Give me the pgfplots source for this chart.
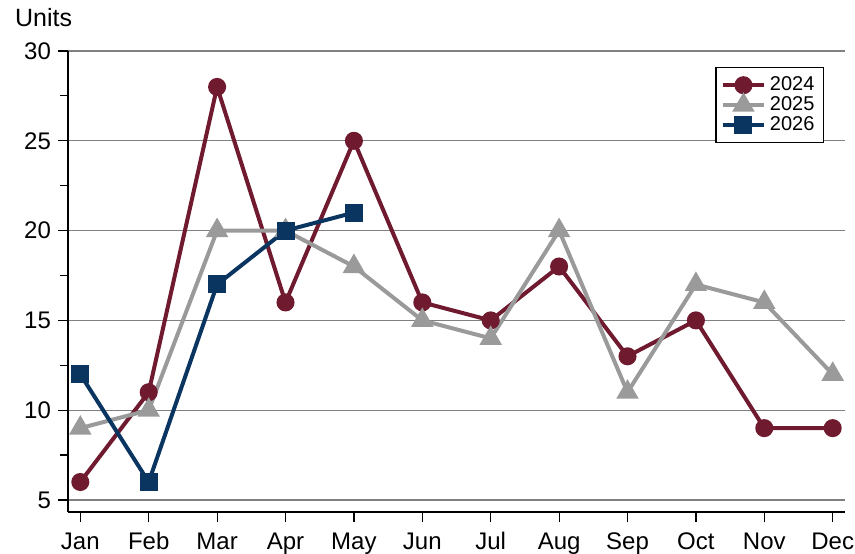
\documentclass[border=0pt]{standalone}
\usepackage{pgfplots}
\pgfplotsset{compat=1.18}
\usepackage{fontspec}
\setmainfont{Liberation Sans}
\definecolor{c1}{HTML}{6F1A2E}
\definecolor{c2}{HTML}{9A9A9A}
\definecolor{c3}{HTML}{0A3560}
\begin{document}
\begin{tikzpicture}
\begin{axis}[name=ax, at={(0,0)}, anchor=south west, scale only axis,
 width=388.5pt, height=230.5pt,
 xmin=-0.18, xmax=11.18, ymin=4.33, ymax=30,
 axis x line*=bottom, axis y line*=left,
 axis line style={-, line width=0.6pt},
 xtick={0,...,11}, xticklabels={Jan,Feb,Mar,Apr,May,Jun,Jul,Aug,Sep,Oct,Nov,Dec},
 ytick={5,10,...,30}, minor ytick={7.5,12.5,...,27.5},
 tick align=outside, major tick length=5pt, minor tick length=4pt,
 tick style={black, line width=0.6pt},
 ymajorgrids, grid style={gray, line width=0.6pt},
 ticklabel style={font=\fontsize{12}{14}\selectfont},
 /pgf/number format/assume math mode=true,
 xticklabel style={text height=9pt, text depth=2pt, yshift=-1pt},
 clip=false,
 legend style={at={(0.973,0.965)}, anchor=north east, font=\fontsize{10}{10}\selectfont, draw=black, line width=0.6pt, row sep=-2.5pt, inner sep=2.5pt},
 legend image code/.code={\draw[mark repeat=2, mark phase=2] plot coordinates {(0,0)(0.36cm,0)(0.72cm,0)};},
 legend cell align=left,
 every axis plot/.append style={line width=2pt},
]
\addplot[c1, mark=*, mark size=3.5pt] coordinates {(0,6)(1,11)(2,28)(3,16)(4,25)(5,16)(6,15)(7,18)(8,13)(9,15)(10,9)(11,9)};
\addplot[c2, mark=triangle*, mark size=4.5pt] coordinates {(0,9)(1,10)(2,20)(3,20)(4,18)(5,15)(6,14)(7,20)(8,11)(9,17)(10,16)(11,12)};
\addplot[c3, mark=square*, mark size=3.5pt] coordinates {(0,12)(1,6)(2,17)(3,20)(4,21)};
\legend{2024,2025,2026}
\end{axis}
\node[anchor=west, font=\fontsize{12.5}{14}\selectfont] at (-30pt,247pt) {Units};
\pgfresetboundingbox
\path[use as bounding box] (-34pt,-20.5pt) rectangle (393.5pt,256pt);
\end{tikzpicture}
\end{document}
